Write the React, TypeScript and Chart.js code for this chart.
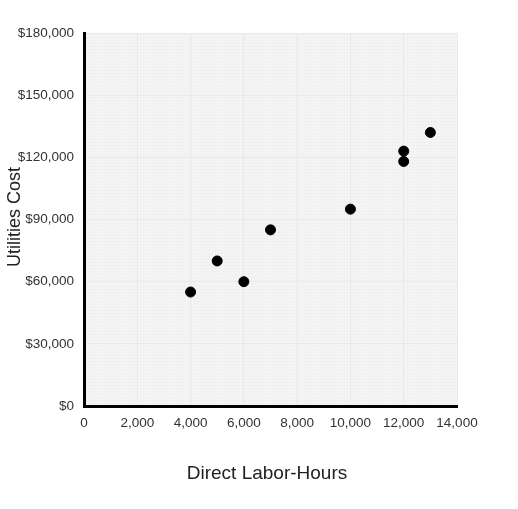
import React, { useEffect, useRef } from "react";
import { Chart, registerables } from "chart.js";

Chart.register(...registerables);

const laborHours = [4000, 5000, 6000, 7000, 10000, 12000, 12000, 13000];
const utilitiesCost = [55000, 70000, 60000, 85000, 95000, 118000, 123000, 132000];
const xTitle = "Direct Labor-Hours";
const yTitle = "Utilities Cost";

const FONT = "'Liberation Sans', Arial, sans-serif";

const bgPlugin = {
  id: "bgPlugin",
  beforeDraw(chart: any) {
    const { ctx, chartArea: a } = chart;
    ctx.save();
    ctx.fillStyle = "#f5f5f5";
    ctx.fillRect(a.left, a.top, a.right - a.left, a.bottom - a.top);
    ctx.strokeStyle = "rgba(238,238,238,0.5)";
    ctx.lineWidth = 1;
    for (let x = a.left + 2.5; x < a.right; x += 3) {
      ctx.beginPath();
      ctx.moveTo(x, a.top);
      ctx.lineTo(x, a.bottom);
      ctx.stroke();
    }
    for (let y = a.bottom - 2.5; y > a.top; y -= 3) {
      ctx.beginPath();
      ctx.moveTo(a.left, y);
      ctx.lineTo(a.right, y);
      ctx.stroke();
    }
    ctx.restore();
  },
  afterDraw(chart: any) {
    const { ctx } = chart;
    ctx.save();
    ctx.fillStyle = "#222";
    ctx.textAlign = "center";
    ctx.textBaseline = "middle";
    ctx.font = `19px ${FONT}`;
    ctx.fillText(xTitle, 267, 474);
    ctx.font = `18px ${FONT}`;
    ctx.translate(15, 217);
    ctx.rotate(-Math.PI / 2);
    ctx.fillText(yTitle, 0, 0);
    ctx.restore();
  },
};

export default function App() {
  const ref = useRef<HTMLCanvasElement>(null);
  useEffect(() => {
    if (!ref.current) return;
    const chart = new Chart(ref.current, {
      type: "scatter",
      data: {
        datasets: [
          {
            data: laborHours.map((x, i) => ({ x, y: utilitiesCost[i] })),
            backgroundColor: "#000",
            borderColor: "#000",
            pointRadius: 5,
          },
        ],
      },
      options: {
        animation: false,
        responsive: false,
        layout: { padding: { top: 33, right: 61, left: 0, bottom: 0 } },
        plugins: { legend: { display: false }, tooltip: { enabled: false } },
        scales: {
          x: {
            type: "linear",
            min: 0,
            max: 14000,
            afterFit: (s: any) => {
              s.height = 103;
            },
            border: { color: "#000", width: 3 },
            grid: { color: "#e9e9e9", drawTicks: false },
            ticks: {
              stepSize: 2000,
              padding: 9,
              color: "#333",
              font: { family: FONT, size: 13.5 },
              callback: (v: any) => Number(v).toLocaleString("en-US"),
            },
          },
          y: {
            type: "linear",
            min: 0,
            max: 180000,
            afterFit: (s: any) => {
              s.width = 84;
            },
            border: { color: "#000", width: 3 },
            grid: { color: "#e9e9e9", drawTicks: false },
            ticks: {
              stepSize: 30000,
              padding: 10,
              color: "#333",
              font: { family: FONT, size: 13.5 },
              callback: (v: any) => "$" + Number(v).toLocaleString("en-US"),
            },
          },
        },
      },
      plugins: [bgPlugin],
    });
    return () => chart.destroy();
  }, []);
  return (
    <div style={{ position: "absolute", left: 0, top: 0, width: 518, height: 509, background: "#fff" }}>
      <canvas ref={ref} width={518} height={509} />
    </div>
  );
}
